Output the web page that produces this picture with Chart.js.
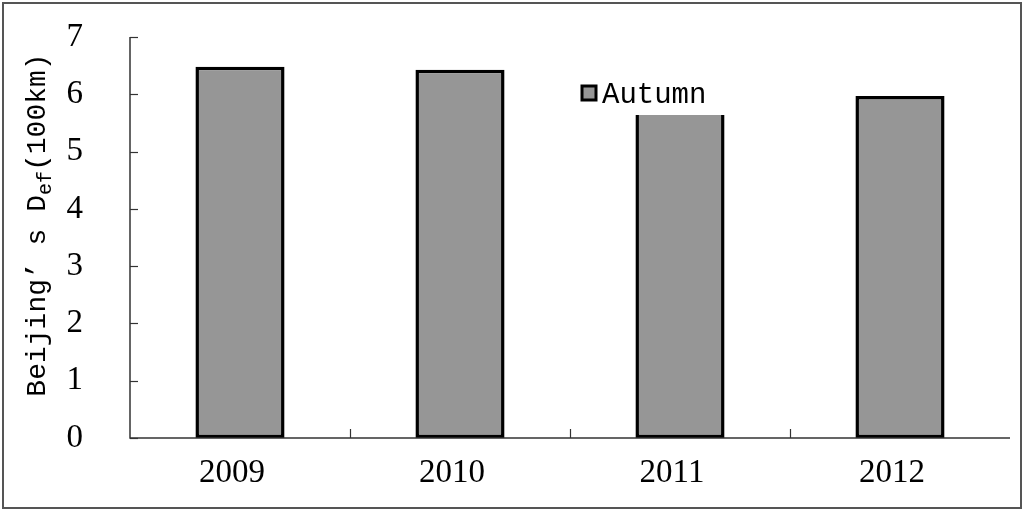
<!DOCTYPE html>
<html>
<head>
<meta charset="utf-8">
<script src="https://cdn.jsdelivr.net/npm/chart.js@4/dist/chart.umd.min.js"></script>
<style>
  html, body { margin: 0; padding: 0; background: #fff; }
  #wrap { width: 1024px; height: 511px; }
</style>
</head>
<body>
<div id="wrap"><canvas id="autumnChart" width="1024" height="511"></canvas></div>
<script>
/* ======================
   DATA
====================== */
const years = ["2009", "2010", "2011", "2012"];
const autumnDef = [6.48, 6.43, 5.85, 5.97];
const yTicks = [0, 1, 2, 3, 4, 5, 6, 7];
const legendLabel = "Autumn";

const serif = "'Liberation Serif', 'DejaVu Serif', serif";
const mono = "'Liberation Mono', 'DejaVu Sans Mono', monospace";
const barGray = "#969696";

/* ======================
   FRAME + INWARD TICKS + TITLE + LEGEND
====================== */
const decor = {
    id: "decor",
    beforeDraw(chart) {
        const ctx = chart.ctx;
        ctx.save();
        ctx.fillStyle = "#fff";
        ctx.fillRect(0, 0, chart.width, chart.height);
        ctx.restore();
    },
    afterDraw(chart) {
        const ctx = chart.ctx;
        const area = chart.chartArea;
        const x = chart.scales.x;
        const y = chart.scales.y;
        ctx.save();

        // axes
        ctx.strokeStyle = "#333";
        ctx.lineWidth = 1.5;
        ctx.beginPath();
        ctx.moveTo(area.left, area.top);
        ctx.lineTo(area.left, area.bottom);
        ctx.lineTo(area.right, area.bottom);
        ctx.stroke();

        // y ticks pointing into the plot
        ctx.lineWidth = 1.2;
        yTicks.forEach(v => {
            const py = Math.round(y.getPixelForValue(v)) + 0.5;
            ctx.beginPath();
            ctx.moveTo(area.left, py);
            ctx.lineTo(area.left + 8, py);
            ctx.stroke();
        });

        // x ticks between categories, pointing up
        for (let i = 0; i < years.length - 1; i++) {
            const px = Math.round((x.getPixelForValue(i) + x.getPixelForValue(i + 1)) / 2) + 0.5;
            ctx.beginPath();
            ctx.moveTo(px, area.bottom);
            ctx.lineTo(px, area.bottom - 9);
            ctx.stroke();
        }

        // y axis title with subscript
        ctx.translate(38, 225);
        ctx.rotate(-Math.PI / 2);
        ctx.fillStyle = "#000";
        ctx.textBaseline = "middle";
        const big = "28px " + mono;
        const small = "20px " + mono;
        const parts = [
            { t: "Beijing’ s D", f: big, dy: 0 },
            { t: "ef", f: small, dy: 8 },
            { t: "(100km)", f: big, dy: 0 }
        ];
        let total = 0;
        parts.forEach(p => { ctx.font = p.f; total += ctx.measureText(p.t).width; });
        let cx = -total / 2;
        parts.forEach(p => {
            ctx.font = p.f;
            ctx.fillText(p.t, cx, p.dy);
            cx += ctx.measureText(p.t).width;
        });
        ctx.setTransform(1, 0, 0, 1, 0, 0);

        // legend box (white background over the plot)
        ctx.fillStyle = "#fff";
        ctx.fillRect(574, 77, 156, 38);
        ctx.fillStyle = barGray;
        ctx.strokeStyle = "#000";
        ctx.lineWidth = 3;
        ctx.fillRect(582, 86, 14, 14);
        ctx.strokeRect(582, 86, 14, 14);
        ctx.fillStyle = "#000";
        ctx.font = "29px " + mono;
        ctx.textBaseline = "middle";
        ctx.textAlign = "left";
        ctx.fillText(legendLabel, 602, 95);

        // outer frame
        ctx.strokeStyle = "#555";
        ctx.lineWidth = 2;
        ctx.strokeRect(3, 3, chart.width - 6, chart.height - 6);
        ctx.restore();
    }
};

const noPad = s => {
    s.paddingTop = 0;
    s.paddingBottom = 0;
    s.paddingLeft = 0;
    s.paddingRight = 0;
};

/* ======================
   CHART
====================== */
new Chart(document.getElementById("autumnChart"), {
    type: "bar",
    data: {
        labels: years,
        datasets: [{
            label: legendLabel,
            data: autumnDef,
            backgroundColor: barGray,
            borderColor: "#000",
            borderWidth: 3.5,
            borderSkipped: false,
            categoryPercentage: 1,
            barPercentage: 0.405
        }]
    },
    options: {
        responsive: false,
        animation: false,
        events: [],
        layout: { padding: { left: 0, top: 37, right: 14, bottom: 0 } },
        plugins: {
            legend: { display: false },
            tooltip: { enabled: false }
        },
        scales: {
            x: {
                grid: { display: false, drawTicks: false },
                border: { display: false },
                ticks: {
                    color: "#000",
                    padding: 16,
                    labelOffset: -8,
                    font: { family: serif, size: 33 }
                },
                afterFit: s => { s.height = 73; noPad(s); }
            },
            y: {
                min: 0,
                max: 7,
                grid: { display: false, drawTicks: false },
                border: { display: false },
                ticks: {
                    stepSize: 1,
                    color: "#000",
                    padding: 47,
                    font: { family: serif, size: 33 }
                },
                afterFit: s => { s.width = 130; noPad(s); }
            }
        }
    },
    plugins: [decor]
});
</script>
</body>
</html>
